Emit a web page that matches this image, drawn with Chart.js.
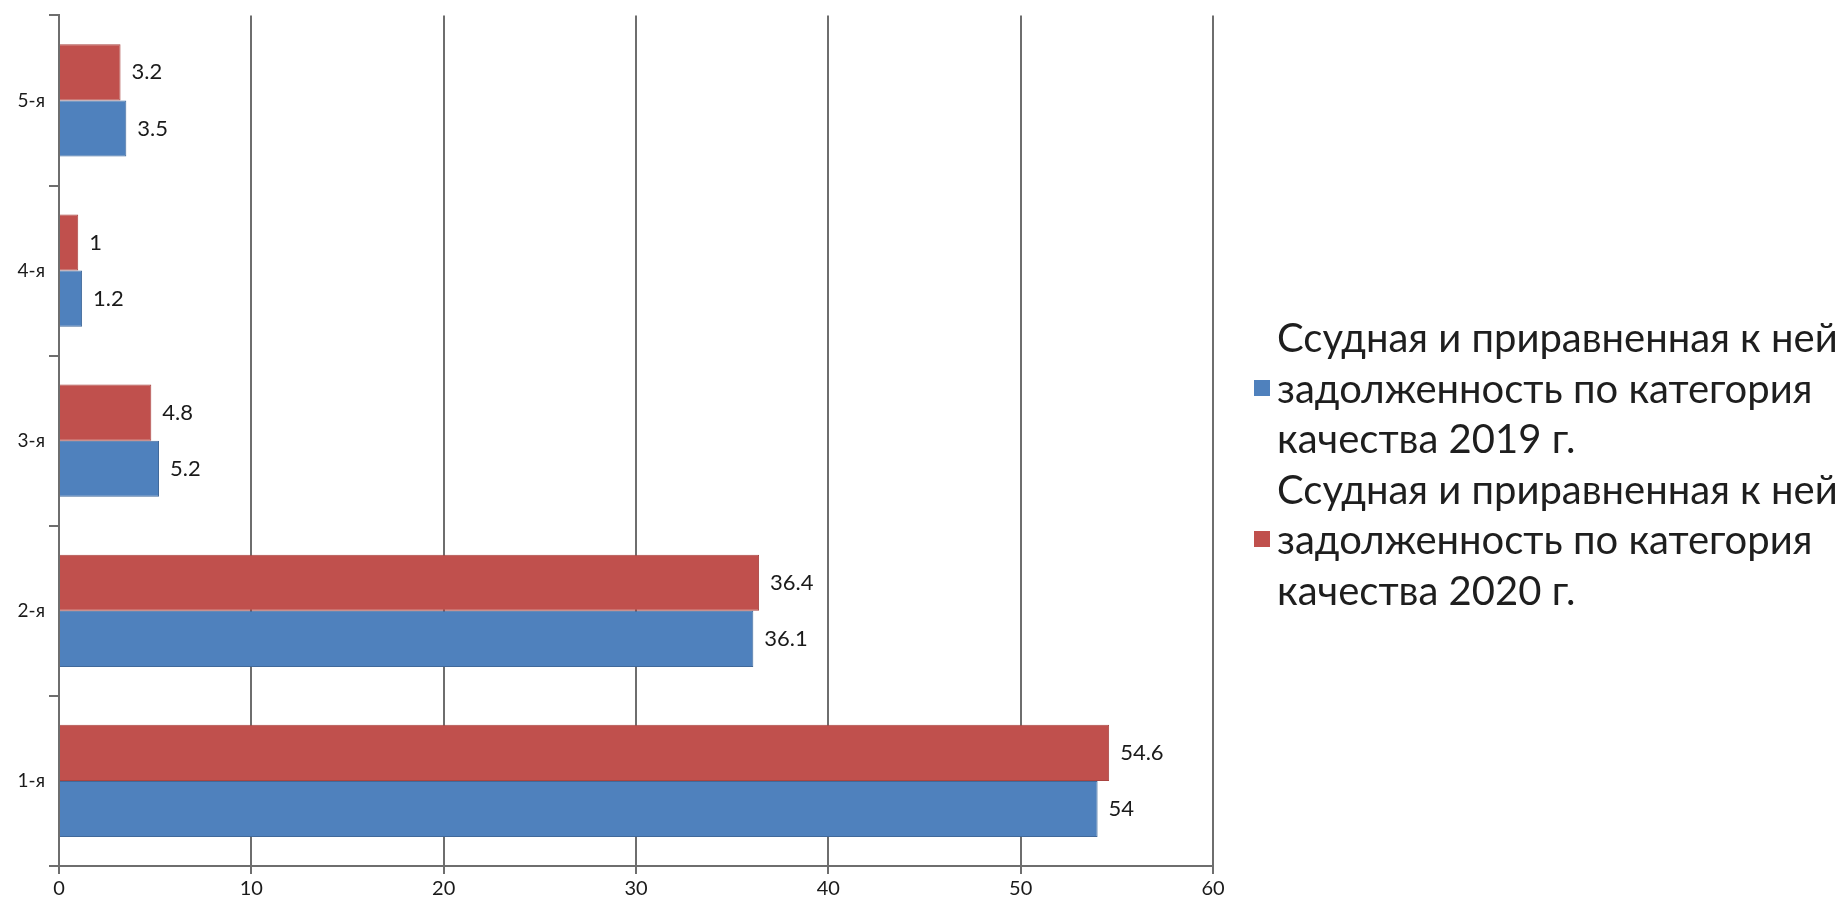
<!DOCTYPE html>
<html>
<head>
<meta charset="utf-8">
<script src="https://cdn.jsdelivr.net/npm/chart.js@4"></script>
<style>
  body { margin: 0; background: #fff; }
  #wrap { position: relative; width: 1841px; height: 905px; }
  #legend {
    position: absolute; left: 1254px; top: 312px;
    font-family: Lato, sans-serif; font-size: 40px; line-height: 50.5px; color: #1e1e1e;
  }
  .item { display: flex; align-items: center; }
  .box { width: 16px; height: 16px; margin-right: 7px; flex: none; }
  .txt { white-space: pre-line; }
</style>
</head>
<body>
<div id="wrap">
  <canvas id="chart" width="1841" height="905"></canvas>
  <div id="legend"></div>
</div>
<script>
// categories top to bottom, as in the picture
const categories = ["5-я", "4-я", "3-я", "2-я", "1-я"];
const values2019 = [3.5, 1.2, 5.2, 36.1, 54];
const values2020 = [3.2, 1, 4.8, 36.4, 54.6];
const xTicks = [0, 10, 20, 30, 40, 50, 60];

const name2019 = "Ссудная и приравненная к ней\nзадолженность по категория\nкачества 2019 г.";
const name2020 = "Ссудная и приравненная к ней\nзадолженность по категория\nкачества 2020 г.";

const blue = "#4F81BD";
const red = "#C0504D";

// legend (2019 first, like Excel)
const legend = document.getElementById("legend");
[[name2019, blue], [name2020, red]].forEach(([name, color]) => {
  const item = document.createElement("div");
  item.className = "item";
  item.innerHTML = '<span class="box" style="background:' + color + '"></span><span class="txt"></span>';
  item.querySelector(".txt").textContent = name;
  legend.appendChild(item);
});

// value labels to the right of each bar
const barLabels = {
  id: "barLabels",
  afterDatasetsDraw(chart) {
    const ctx = chart.ctx;
    ctx.save();
    ctx.font = "22px Lato, sans-serif";
    ctx.fillStyle = "#1a1a1a";
    ctx.textAlign = "left";
    ctx.textBaseline = "middle";
    chart.data.datasets.forEach((ds, i) => {
      chart.getDatasetMeta(i).data.forEach((bar, j) => {
        ctx.fillText(String(ds.data[j]), bar.x + 11, bar.y);
      });
    });
    ctx.restore();
  }
};

new Chart(document.getElementById("chart"), {
  type: "bar",
  data: {
    labels: categories,
    datasets: [
      { label: name2020, data: values2020, backgroundColor: red, borderColor: "#A94441", borderWidth: 1 },
      { label: name2019, data: values2019, backgroundColor: blue, borderColor: "#41699A", borderWidth: 1 }
    ]
  },
  options: {
    indexAxis: "y",
    responsive: false,
    animation: false,
    devicePixelRatio: 1,
    layout: { padding: { top: 12, right: 628, left: 0, bottom: 0 } },
    datasets: { bar: { categoryPercentage: 0.66, barPercentage: 1.0 } },
    plugins: { legend: { display: false }, tooltip: { enabled: false } },
    scales: {
      x: {
        min: 0,
        max: 60,
        afterBuildTicks: scale => { scale.ticks = xTicks.map(v => ({ value: v })); },
        afterFit: scale => { scale.height = 39; },
        grid: { color: "#6e6e6e", lineWidth: 2, tickLength: 8 },
        border: { color: "#6e6e6e", width: 2 },
        ticks: { color: "#1a1a1a", padding: 3, font: { family: "Lato", size: 20 } }
      },
      y: {
        afterFit: scale => { scale.width = 59; },
        grid: { offset: true, drawOnChartArea: false, color: "#6e6e6e", lineWidth: 2, tickLength: 10 },
        border: { color: "#6e6e6e", width: 2 },
        ticks: { color: "#1a1a1a", padding: 4, font: { family: "Lato", size: 19 } }
      }
    }
  },
  plugins: [barLabels]
});
</script>
</body>
</html>
